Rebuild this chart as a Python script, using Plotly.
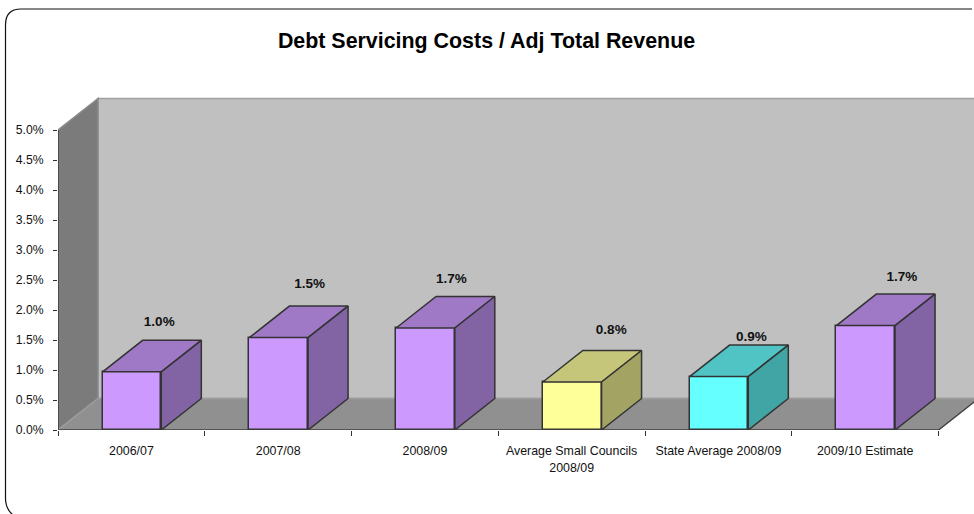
import plotly.graph_objects as go

# Chart data (per cent of adjusted total revenue)
categories = ["2006/07", "2007/08", "2008/09", "Average Small Councils<br>2008/09",
              "State Average 2008/09", "2009/10 Estimate"]
debt_ratio = [0.97, 1.54, 1.70, 0.80, 0.89, 1.74]

# Per-bar colours: front, top and side faces
front_colors = ["#cc99ff", "#cc99ff", "#cc99ff", "#ffff99", "#66ffff", "#cc99ff"]
top_colors = ["#9f78c6", "#9f78c6", "#9f78c6", "#c6c67a", "#50c4c4", "#9f78c6"]
side_colors = ["#8263a3", "#8263a3", "#8263a3", "#a3a363", "#41a5a5", "#8263a3"]

# Value label offsets from the bar's front top centre (categories, per cent)
label_dx = [0.19, 0.215, 0.18, 0.27, 0.225, 0.25]
label_dy = [0.82, 0.89, 0.80, 0.85, 0.65, 0.80]

# Pseudo-3D projection, in axis units
PX_PER_CAT = 146.75
PX_PER_PCT = 60.0
DEPTH_X = 40 / PX_PER_CAT
DEPTH_Y = 31.5 / PX_PER_PCT
BAR_WIDTH = 0.4
BAR_SHIFT = 0.004
Y_TOP = 5.0
EDGE = "#333333"

# Plot rectangle inside the 974x514 page
M_L, M_R, M_T, M_B = 58, 0, 90, 84
PLOT_W = 974 - M_L - M_R
PLOT_H = 514 - M_T - M_B
n = len(categories)
centers = [i + 0.5 for i in range(n)]
bar_centers = [c + BAR_SHIFT for c in centers]


def path(points):
    return "M " + " L ".join(f"{x},{y}" for x, y in points) + " Z"


def wall(points, fill, edge):
    return dict(type="path", xref="x", yref="y", layer="below", path=path(points),
                fillcolor=fill, line=dict(color=edge, width=1.5))


shapes = [
    # back wall
    wall([(DEPTH_X, DEPTH_Y), (n + DEPTH_X, DEPTH_Y),
          (n + DEPTH_X, Y_TOP + DEPTH_Y), (DEPTH_X, Y_TOP + DEPTH_Y)], "#c0c0c0", "#a0a0a0"),
    # side wall
    wall([(0, 0), (DEPTH_X, DEPTH_Y), (DEPTH_X, Y_TOP + DEPTH_Y), (0, Y_TOP)], "#7b7b7b", "#8c8c8c"),
    # floor
    wall([(0, 0), (n, 0), (n + DEPTH_X, DEPTH_Y), (DEPTH_X, DEPTH_Y)], "#909090", "#9c9c9c"),
]

# Rounded chart frame, given in page pixels and converted to paper units
def fx(px):
    return (px - M_L) / PLOT_W


def fy(py):
    return (514 - M_B - py) / PLOT_H


shapes.append(dict(
    type="path", xref="paper", yref="paper", layer="below",
    path=(f"M {fx(972)},{fy(9)} L {fx(21)},{fy(9)} Q {fx(5.5)},{fy(9)} {fx(5.5)},{fy(25)} "
          f"L {fx(5.5)},{fy(498)} Q {fx(5.5)},{fy(509)} {fx(13)},{fy(515)}"),
    line=dict(color="#111111", width=1.2),
))

fig = go.Figure()

# Front faces
fig.add_trace(go.Bar(
    x=bar_centers, y=debt_ratio, width=BAR_WIDTH, cliponaxis=False,
    marker=dict(color=front_colors, line=dict(color=EDGE, width=1.5)),
    hoverinfo="skip", showlegend=False,
))

# Top and side faces, projected from each bar's value
for c, v, top, side in zip(bar_centers, debt_ratio, top_colors, side_colors):
    l, r = c - BAR_WIDTH / 2, c + BAR_WIDTH / 2
    top_x = [l, r, r + DEPTH_X, l + DEPTH_X, l]
    top_y = [v, v, v + DEPTH_Y, v + DEPTH_Y, v]
    side_x = [r, r + DEPTH_X, r + DEPTH_X, r, r]
    side_y = [0, DEPTH_Y, v + DEPTH_Y, v, 0]
    for xs, ys, col in ((top_x, top_y, top), (side_x, side_y, side)):
        fig.add_trace(go.Scatter(
            x=xs, y=ys, mode="lines", fill="toself", fillcolor=col,
            line=dict(color=EDGE, width=1.5), cliponaxis=False,
            hoverinfo="skip", showlegend=False,
        ))

# Axis lines, kept to the front edge of the box
for xs, ys, w in (([0, n], [0, 0], 1.6), ([0, 0], [0, Y_TOP], 1.6), ([n, n + DEPTH_X], [0, DEPTH_Y], 1.2)):
    fig.add_trace(go.Scatter(x=xs, y=ys, mode="lines", cliponaxis=False,
                             line=dict(color="#3c3c3c", width=w), hoverinfo="skip", showlegend=False))

# Value labels
fig.add_trace(go.Scatter(
    x=[c + d for c, d in zip(centers, label_dx)],
    y=[v + d for v, d in zip(debt_ratio, label_dy)],
    mode="text", text=[f"{v:.1f}%" for v in debt_ratio], textposition="middle center",
    textfont=dict(family="Liberation Sans, Arial, sans-serif", size=13.5, color="#111111", weight="bold"),
    cliponaxis=False, hoverinfo="skip", showlegend=False,
))

fig.update_layout(
    width=974, height=514, autosize=False,
    margin=dict(l=M_L, r=M_R, t=M_T, b=M_B, pad=0, autoexpand=False),
    paper_bgcolor="white", plot_bgcolor="rgba(0,0,0,0)",
    font=dict(family="Liberation Sans, Arial, sans-serif", color="#111111"),
    title=dict(text="<b>Debt Servicing Costs / Adj Total Revenue</b>",
               xref="container", yref="container", x=486.5 / 974, xanchor="center",
               y=1 - 41 / 514, yanchor="middle",
               font=dict(size=21.4, color="#000000")),
    shapes=shapes, showlegend=False, bargap=0,
    xaxis=dict(
        range=[0, PLOT_W / PX_PER_CAT], showgrid=False, zeroline=False, showline=False,
        tickmode="array", tickvals=centers, ticktext=categories,
        ticks="", ticklen=0, ticklabelstandoff=12,
        tickfont=dict(size=12.4, color="#111111"), tickangle=0,
        minor=dict(tickmode="array", tickvals=list(range(n + 1)), ticks="outside",
                   ticklen=5, tickwidth=1, tickcolor="#333333", showgrid=False),
    ),
    yaxis=dict(
        range=[0, PLOT_H / PX_PER_PCT], showgrid=False, zeroline=False, showline=False,
        tickmode="array", tickvals=[i * 0.5 for i in range(11)],
        ticktext=[f"{i * 0.5:.1f}%" for i in range(11)],
        ticks="outside", ticklen=4, tickwidth=1, tickcolor="#333333",
        ticklabelstandoff=7,
        tickfont=dict(size=12.2, color="#111111"),
    ),
)

fig.write_html("out.html", config=dict(displayModeBar=False))
